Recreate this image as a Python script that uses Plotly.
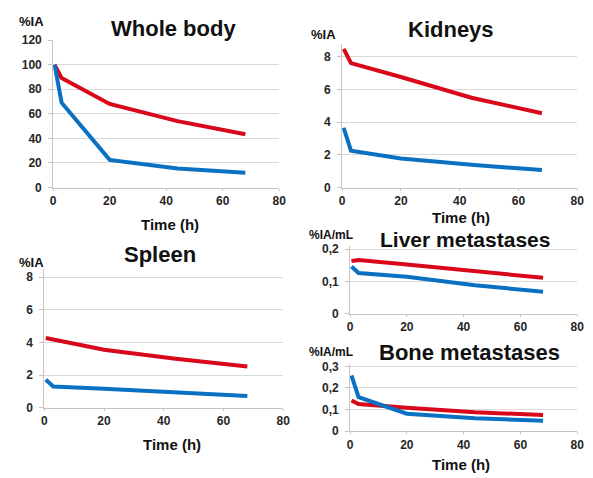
import plotly.graph_objects as go

# Sampling times (h)
time_h = [0.5, 3, 20, 44, 68]

# Percent injected activity per organ, two tracers (red / blue)
whole_body_red = [100, 89, 68, 54, 43.4]
whole_body_blue = [100, 69, 22.5, 15.5, 12]
kidneys_red = [8.5, 7.62, 6.77, 5.5, 4.55]
kidneys_blue = [3.66, 2.26, 1.78, 1.39, 1.07]
spleen_red = [4.28, 4.18, 3.56, 3.01, 2.53]
spleen_blue = [1.72, 1.31, 1.17, 0.97, 0.73]
liver_met_red = [0.163, 0.166, 0.152, 0.131, 0.111]
liver_met_blue = [0.146, 0.126, 0.114, 0.088, 0.068]
bone_met_red = [0.142, 0.126, 0.108, 0.088, 0.075]
bone_met_blue = [0.258, 0.158, 0.081, 0.060, 0.048]

x_ticks = [0, 20, 40, 60, 80]

W, H = 593, 478
RED = "#d9071a"
BLUE = "#0a70c2"
GRID = "#d9d9d9"
AXIS = "#c4c4c4"
FONT = "Liberation Sans, Arial, sans-serif"
TICKFONT = dict(family=FONT, size=12, color="#262626", weight="bold")


def px_x(p):
    return p / W


def px_y(p):
    return 1 - p / H


# (title, unit, red, blue, x-domain px, y-domain px, y range, y ticks, y tick text)
panels = [
    ("Whole body", "%IA", whole_body_red, whole_body_blue,
     (51, 281), (34, 186), [0, 120], [0, 20, 40, 60, 80, 100, 120],
     ["0", "20", "40", "60", "80", "100", "120"]),
    ("Kidneys", "%IA", kidneys_red, kidneys_blue,
     (345, 584), (38, 186), [0, 8.8], [0, 2, 4, 6, 8],
     ["0", "2", "4", "6", "8"]),
    ("Spleen", "%IA", spleen_red, spleen_blue,
     (42, 285), (270, 413), [0, 8.5], [0, 2, 4, 6, 8],
     ["0", "2", "4", "6", "8"]),
    ("Liver metastases", "%IA/mL", liver_met_red, liver_met_blue,
     (353, 584), (246, 316), [0, 0.21], [0, 0.1, 0.2],
     ["0", "0,1", "0,2"]),
    ("Bone metastases", "%IA/mL", bone_met_red, bone_met_blue,
     (353, 584), (368, 437), [0, 0.31], [0, 0.1, 0.2, 0.3],
     ["0", "0,1", "0,2", "0,3"]),
]

fig = go.Figure()
layout = {}
for i, (title, unit, red, blue, xd, yd, yr, yt, ytt) in enumerate(panels, start=1):
    sx = "" if i == 1 else str(i)
    for series, color in ((red, RED), (blue, BLUE)):
        fig.add_trace(go.Scatter(
            x=time_h, y=series, mode="lines",
            line=dict(color=color, width=4),
            xaxis="x" + sx, yaxis="y" + sx, showlegend=False,
        ))
    layout["xaxis" + sx] = dict(
        domain=[px_x(xd[0]), px_x(xd[1])], anchor="y" + sx,
        range=[0, 80], tickvals=x_ticks, ticktext=[str(v) for v in x_ticks],
        showgrid=False, zeroline=False, showline=True, linecolor=AXIS,
        linewidth=1, ticks="outside", ticklen=2, tickcolor=AXIS,
        tickfont=TICKFONT,
    )
    layout["yaxis" + sx] = dict(
        domain=[px_y(yd[1]), px_y(yd[0])], anchor="x" + sx,
        range=yr, tickvals=yt, ticktext=ytt,
        showgrid=True, gridcolor=GRID, gridwidth=1, zeroline=False,
        showline=True, linecolor=AXIS, linewidth=1, ticks="outside",
        ticklen=4, tickcolor=AXIS, tickfont=TICKFONT, ticklabelstandoff=4,
    )

annotations = []


def label(text, x, y, size, xanchor="center"):
    annotations.append(dict(
        text=text, x=px_x(x), y=px_y(y), xref="paper", yref="paper",
        xanchor=xanchor, yanchor="middle", showarrow=False,
        font=dict(family=FONT, size=size, color="#111111", weight="bold"),
    ))


# Panel titles
label("Whole body", 173, 22, 22)
label("Kidneys", 456, 23, 22)
label("Spleen", 160, 255, 22)
label("Liver metastases", 470, 239, 21)
label("Bone metastases", 474, 356, 22)

# Unit labels above y axes
label("%IA", 14, 15, 13, "left")
label("%IA", 311, 28, 13, "left")
label("%IA", 14, 263, 13, "left")
label("%IA/mL", 309, 235, 12, "left")
label("%IA/mL", 309, 355, 12, "left")

# Time axis titles
label("Time (h)", 170, 224, 15)
label("Time (h)", 466, 217, 15)
label("Time (h)", 172, 451, 15)
label("Time (h)", 466, 471, 15)

fig.update_layout(
    width=W, height=H, margin=dict(l=0, r=0, t=0, b=0),
    paper_bgcolor="white", plot_bgcolor="white",
    annotations=annotations, **layout,
)

fig.write_html("out.html")
